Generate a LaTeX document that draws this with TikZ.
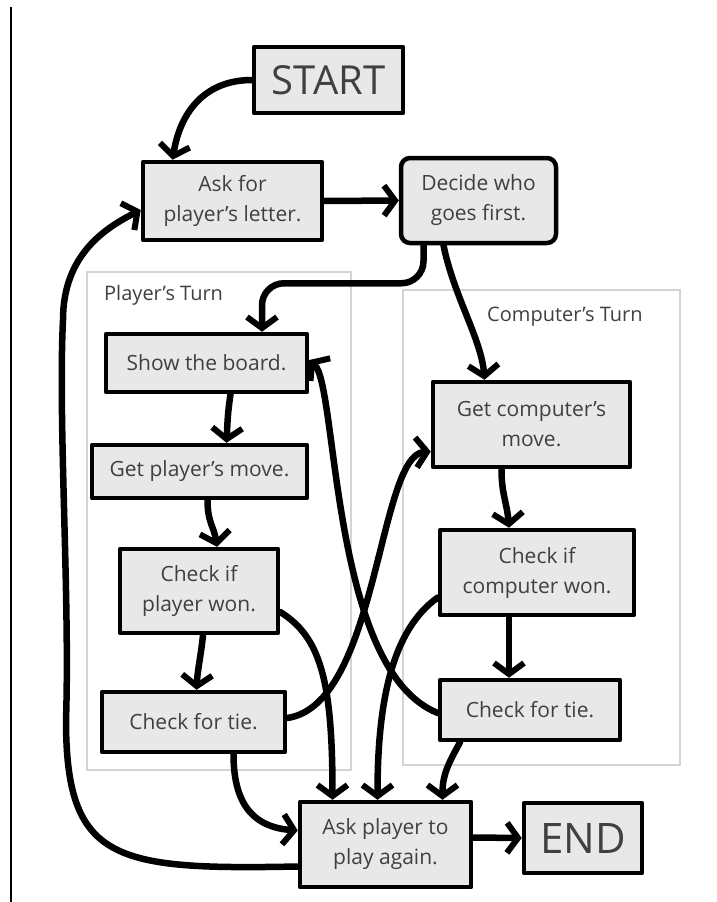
\documentclass[tikz,border=0pt]{standalone}
\usepackage{fontspec}
\setmainfont{Open Sans}
\usetikzlibrary{arrows.meta,calc}
\definecolor{boxfill}{HTML}{E8E8E8}
\definecolor{inkgray}{HTML}{404040}
\definecolor{framegray}{HTML}{D4D4D4}
\tikzset{
  flowbox/.style={draw=black, line width=4.5pt, line join=round, fill=boxfill, inner sep=0pt, align=center,
    text=inkgray, font=\fontsize{21}{30}\selectfont},
  arr/.style={line width=6.5pt, line cap=round,
    -{Straight Barb[length=11pt,width=30pt,line width=6pt]}},
  turnframe/.style={draw=framegray, line width=1.5pt, inner sep=0pt},
  turnlabel/.style={text=inkgray, font=\fontsize{20}{24}\selectfont, inner sep=0pt},
}
\begin{document}
\begin{tikzpicture}[x=1pt,y=-1pt]
\useasboundingbox (0,0) rectangle (717,902);
\fill[white] (0,0) rectangle (717,902);
\draw[line width=2pt] (11,7) -- (11,902);

% turn frames
\node[turnframe, minimum width=264pt, minimum height=498pt] (pturn) at (219,521) {};
\node[turnframe, minimum width=277pt, minimum height=475pt] (cturn) at (541.5,527.5) {};
\node[turnlabel, anchor=west] (plabel) at (104,295) {Player's Turn};
\node[turnlabel, anchor=west] (clabel) at (487,317) {Computer's Turn};

% boxes
\node[flowbox, minimum width=149pt, minimum height=66pt, font=\fontsize{40}{44}\selectfont] (startbox) at (328.5,80) {START};
\node[flowbox, minimum width=179pt, minimum height=78pt] (ask) at (232.5,201) {Ask for\\player's letter.};
\node[flowbox, minimum width=155pt, minimum height=85pt, rounded corners=9pt] (decide) at (478.5,200.5) {Decide who\\goes first.};
\node[flowbox, minimum width=201pt, minimum height=58pt] (show) at (206.5,363) {Show the board.};
\node[flowbox, minimum width=215pt, minimum height=53pt] (getp) at (199.5,471.5) {Get player's move.};
\node[flowbox, minimum width=158pt, minimum height=84pt] (checkpw) at (199,591) {Check if\\player won.};
\node[flowbox, minimum width=183pt, minimum height=60pt] (tiep) at (193.5,722) {Check for tie.};
\node[flowbox, minimum width=197pt, minimum height=85pt] (getc) at (531.5,424.5) {Get computer's\\move.};
\node[flowbox, minimum width=194pt, minimum height=85pt] (checkcw) at (537,572.5) {Check if\\computer won.};
\node[flowbox, minimum width=180pt, minimum height=60pt] (tiec) at (530,710) {Check for tie.};
\node[flowbox, minimum width=171pt, minimum height=85pt] (again) at (385.5,844.5) {Ask player to\\play again.};
\node[flowbox, minimum width=118pt, minimum height=70pt, font=\fontsize{42}{46}\selectfont] (endbox) at (583,838) {END};

% connectors
\draw[arr] (startbox.west) .. controls +(-45,0) and +(8,-50) .. ($(ask.north)+(-60,0)$);
\draw[arr] (ask.east) -- (decide.west);
\draw[arr, rounded corners=22pt] ($(decide.south)+(-55,0)$) -- ++(0,38) -| ($(show.north)+(55.5,0)$);
\draw[arr] ($(decide.south)+(-35,0)$) .. controls +(10,50) and +(-3,-40) .. ($(getc.north)+(-47,0)$);
\draw[arr] ($(show.south)+(24,0)$) .. controls +(-3,20) and +(1,-20) .. ($(getp.north)+(27,0)$);
\draw[arr] ($(getp.south)+(8,0)$) .. controls +(0,22) and +(-3,-20) .. ($(checkpw.north)+(18,0)$);
\draw[arr] ($(checkpw.south)+(4,0)$) .. controls +(-2,20) and +(1,-20) .. ($(tiep.north)+(3,0)$);
\draw[arr] ($(checkpw.east)+(0,21)$) .. controls +(40,25) and +(0,-120) .. ($(again.north)+(-53,0)$);
\draw[arr] ($(tiep.east)+(0,-4)$) .. controls (378,705) and (378,455) .. ($(getc.west)+(0,27)$);
\draw[arr] ($(tiec.west)+(0,3)$) .. controls (330,670) and (338,385) .. ($(show.east)+(0,-3)$);
\draw[arr] ($(checkcw.west)+(0,25)$) .. controls +(-45,32) and +(0,-100) .. ($(again.north)+(-8,0)$);
\draw[arr] ($(tiec.south)+(-70,0)$) .. controls +(-12,22) and +(0,-25) .. ($(again.north)+(57,0)$);
\draw[arr] ($(tiep.south)+(40,0)$) .. controls +(0,55) and +(-40,-3) .. ($(again.west)+(0,-14)$);
\draw[arr] ($(again.east)+(0,-7)$) -- (endbox.west);
\draw[arr] ($(getc.south)+(-30,0)$) .. controls +(0,25) and +(-2,-25) .. ($(checkcw.north)+(-28,0)$);
\draw[arr] ($(checkcw.south)+(-28,0)$) -- ($(tiec.north)+(-21,0)$);
\draw[arr] ($(again.west)+(0,22)$) .. controls (115,870) and (66,862) .. (66,720)
  .. controls (70,600) and (58,420) .. (63,320)
  .. controls (63,255) and (105,228) .. ($(ask.west)+(0,9)$);
\end{tikzpicture}
\end{document}
